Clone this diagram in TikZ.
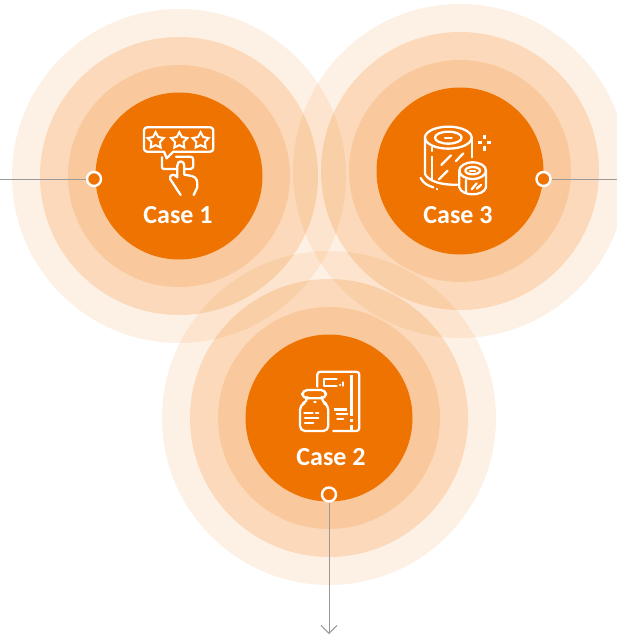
\documentclass[tikz,border=0pt]{standalone}
\usepackage{fontspec}
\setmainfont{Carlito}
\usetikzlibrary{arrows.meta,shapes.geometric}
\definecolor{caseorange}{HTML}{EF7300}
\definecolor{leadgray}{HTML}{999999}

\begin{document}
\begin{tikzpicture}[x=1pt,y=-1pt,
  ring one/.style={circle,fill=caseorange,fill opacity=.10,minimum size=334pt,inner sep=0pt},
  ring two/.style={circle,fill=caseorange,fill opacity=.19,minimum size=278pt,inner sep=0pt},
  ring three/.style={circle,fill=caseorange,fill opacity=.157,minimum size=222pt,inner sep=0pt},
  main node/.style={circle,fill=caseorange,minimum size=167pt,inner sep=0pt},
  case label/.style={text=white,font=\fontsize{26}{26}\selectfont\bfseries},
  end dot/.style={circle,draw=white,fill=caseorange,line width=2.4pt,minimum size=14pt,inner sep=0pt},
  lead/.style={draw=leadgray,line width=1pt},
  icon/.style={draw=white,line width=2.3pt,line cap=round,line join=round},
  bar/.style={draw=white,line width=3.2pt},
  star mark/.style={star,star points=5,star point ratio=1.9,draw=white,line width=2pt,minimum size=17pt,inner sep=0pt}]

  \useasboundingbox (0,0) rectangle (617,637);

  % rings
  \foreach \name/\cx/\cy in {a/179/176,b/460/171,c/329/418}{
    \node[ring one] (\name1) at (\cx,\cy) {};
    \node[ring two] (\name2) at (\cx,\cy) {};
    \node[ring three] (\name3) at (\cx,\cy) {};
  }
  \node[main node] (case1) at (179,176) {};
  \node[main node] (case3) at (460,171) {};
  \node[main node] (case2) at (329,418) {};

  \node[case label] (text1) at (178,215) {Case 1};
  \node[case label] (text3) at (458,215) {Case 3};
  \node[case label] (text2) at (331,457) {Case 2};

  % connectors
  \coordinate (left end) at (0,179);
  \coordinate (right end) at (617,179);
  \coordinate (down end) at (329,634);
  \node[end dot] (dot1) at (94,179) {};
  \node[end dot] (dot3) at (543.5,179) {};
  \node[end dot] (dot2) at (329,494.5) {};
  \path[lead] (left end) -- (dot1);
  \path[lead] (dot3) -- (right end);
  \path[lead,-{Straight Barb[length=8pt,width=16pt]}] (dot2) -- (down end);

  % stars and hand
  \begin{scope}[shift={(90,100)},x=.3333pt,y=-.3333pt]
    \draw[icon,rounded corners=3pt] (222,155) -- (162,155) -- (162,82) -- (370,82) -- (370,155) -- (250,155);
    \draw[icon] (222,155) -- (230,175) -- (250,155);
    \foreach \sx in {197,268,332}
      \node[star mark] (star\sx) at (\sx,122) {};
    \draw[icon,rounded corners=2pt] (216,172) -- (216,207) -- (262,207);
    \draw[icon,rounded corners=3pt] (258,170) -- (310,170) -- (310,207) -- (285,207);
    \draw[icon] (272,285) -- (241,238) .. controls (235,225) and (252,218) .. (262,232)
      -- (262,197) .. controls (262,180) and (283,180) .. (283,197) -- (283,224)
      -- (305,228) .. controls (318,231) and (322,240) .. (322,252) -- (322,262) -- (311,285);
  \end{scope}

  % film rolls
  \begin{scope}[shift={(380,100)},x=.3333pt,y=-.3333pt]
    \draw[icon] (205,113) ellipse [x radius=70,y radius=33];
    \draw[icon] (205,113) ellipse [x radius=40,y radius=18];
    \draw[icon] (195,113) -- (215,113);
    \draw[icon] (135,113) -- (135,222) .. controls (145,245) and (190,256) .. (232,254);
    \draw[icon] (275,113) -- (275,172);
    \draw[icon] (157,142) -- (157,153) (157,170) -- (157,238);
    \draw[icon] (122,234) .. controls (130,250) and (145,258) .. (160,262);
    \draw[icon] (172,267) -- (172,268);
    \draw[icon] (184,195) -- (213,166) (228,183) -- (250,160) (177,238) -- (203,212);
    \draw[icon] (278,212) ellipse [x radius=40,y radius=25];
    \draw[icon] (278,212) ellipse [x radius=22,y radius=11];
    \draw[icon] (270,212) -- (286,212);
    \draw[icon] (238,212) -- (238,262) .. controls (245,290) and (311,290) .. (318,262) -- (318,212);
    \draw[icon] (258,240) -- (258,276) (275,268) -- (290,250) (290,266) -- (303,255);
    \draw[bar,line cap=butt] (314,104) -- (314,117) (314,139) -- (314,152) (295,128) -- (306,128) (322,128) -- (333,128);
  \end{scope}

  % jar and box
  \begin{scope}[shift={(260,350)},x=.3333pt,y=-.3333pt]
    \draw[icon,rounded corners=3pt] (172,110) -- (172,65) -- (298,65) -- (298,243) -- (220,243);
    \draw[bar] (275,75) -- (275,198) (275,208) -- (275,216) (275,226) -- (275,243);
    \draw[icon] (230,87) -- (192,87) -- (192,107) -- (230,107);
    \draw[icon] (240,105) -- (241,105) (248,97) -- (248,107);
    \draw[bar] (222,178) -- (262,178);
    \draw[icon] (230,193) -- (262,193) (232,208) -- (250,208);
    \draw[icon,rounded corners=5pt] (127,120) rectangle (198,145);
    \draw[icon,rounded corners=5pt] (142,146) -- (142,156) -- (120,164) -- (120,243) -- (205,243) -- (205,164) -- (185,156) -- (185,146);
    \draw[icon] (163,155) -- (167,155);
    \draw[icon] (133,190) -- (158,190) (168,190) -- (175,190) (135,205) -- (175,205) (135,218) -- (160,218);
  \end{scope}
\end{tikzpicture}
\end{document}
